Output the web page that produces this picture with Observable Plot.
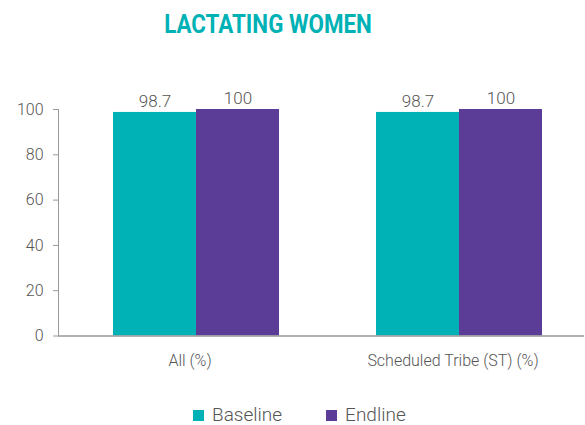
<!DOCTYPE html>
<html><head><meta charset="utf-8">
<script src="https://cdn.jsdelivr.net/npm/d3@7"></script>
<script src="https://cdn.jsdelivr.net/npm/@observablehq/plot@0.6"></script>
<style>
body{margin:0;background:#fff;}
#wrap{position:relative;width:585px;height:425px;overflow:hidden;font-family:Roboto,"DejaVu Sans",sans-serif;}
#title{position:absolute;top:9px;left:0;width:536px;text-align:center;font-family:"Roboto",sans-serif;font-weight:bold;font-size:26px;line-height:30px;color:#00b2b5;transform:scaleX(0.86);transform-origin:268px 0;}
#chart{position:absolute;top:60px;left:0;}
#legend{position:absolute;top:405px;left:193px;height:20px;display:flex;justify-content:flex-start;align-items:center;gap:44px;font-size:19px;font-weight:300;color:#555;line-height:20px;}
#legend .item{display:flex;align-items:center;gap:8px;}
#legend .sw{width:11px;height:11px;display:inline-block;}
</style></head>
<body><div id="wrap"><div id="title">LACTATING WOMEN</div><div id="chart"></div><div id="legend"></div></div>
<script>
const groups = ["All (%)", "Scheduled Tribe (ST) (%)"];
const series = ["Baseline", "Endline"];
const baseline = [98.7, 98.7];
const endline = [100, 100];
const colors = ["#00b2b5", "#5b3d97"];
const yTicks = [0, 20, 40, 60, 80, 100];

const data = [];
groups.forEach((g, i) => {
  data.push({group: g, series: series[0], value: baseline[i]});
  data.push({group: g, series: series[1], value: endline[i]});
});

const plot = Plot.plot({
  width: 585,
  height: 330,
  marginTop: 49,
  marginBottom: 54.5,
  marginLeft: 58,
  marginRight: 1,
  style: {fontFamily: "Roboto, sans-serif", fontSize: "16px", fontWeight: 300, color: "#999", background: "transparent"},
  fx: {domain: groups, padding: 0, label: null, tickSize: 0, tickPadding: 19},
  x: {domain: series, paddingInner: 0, paddingOuter: 0.5843, align: 0.567, axis: null},
  y: {domain: [0, 100], ticks: yTicks, tickSize: 5, tickPadding: 10, line: true, label: null},
  color: {domain: series, range: colors},
  marks: [
    Plot.barY(data, {fx: "group", x: "series", y: "value", fill: "series"}),
    Plot.ruleY([0], {stroke: "#999", strokeWidth: 1.5}),
    Plot.text(data, {fx: "group", x: "series", y: "value", text: d => String(d.value), dy: -11, fill: "#555", fontSize: 17})
  ]
});
d3.select(plot).selectAll('g[aria-label$="tick label"] text').attr("fill", "#555");
d3.select(plot).selectAll('g[aria-label$="tick label"]').attr("fill", "#555");
document.getElementById("chart").appendChild(plot);

const legend = document.getElementById("legend");
series.forEach((s, i) => {
  const item = document.createElement("div");
  item.className = "item";
  const sw = document.createElement("span");
  sw.className = "sw";
  sw.style.background = colors[i];
  const t = document.createElement("span");
  t.textContent = s;
  item.appendChild(sw); item.appendChild(t);
  legend.appendChild(item);
});
</script></body></html>
